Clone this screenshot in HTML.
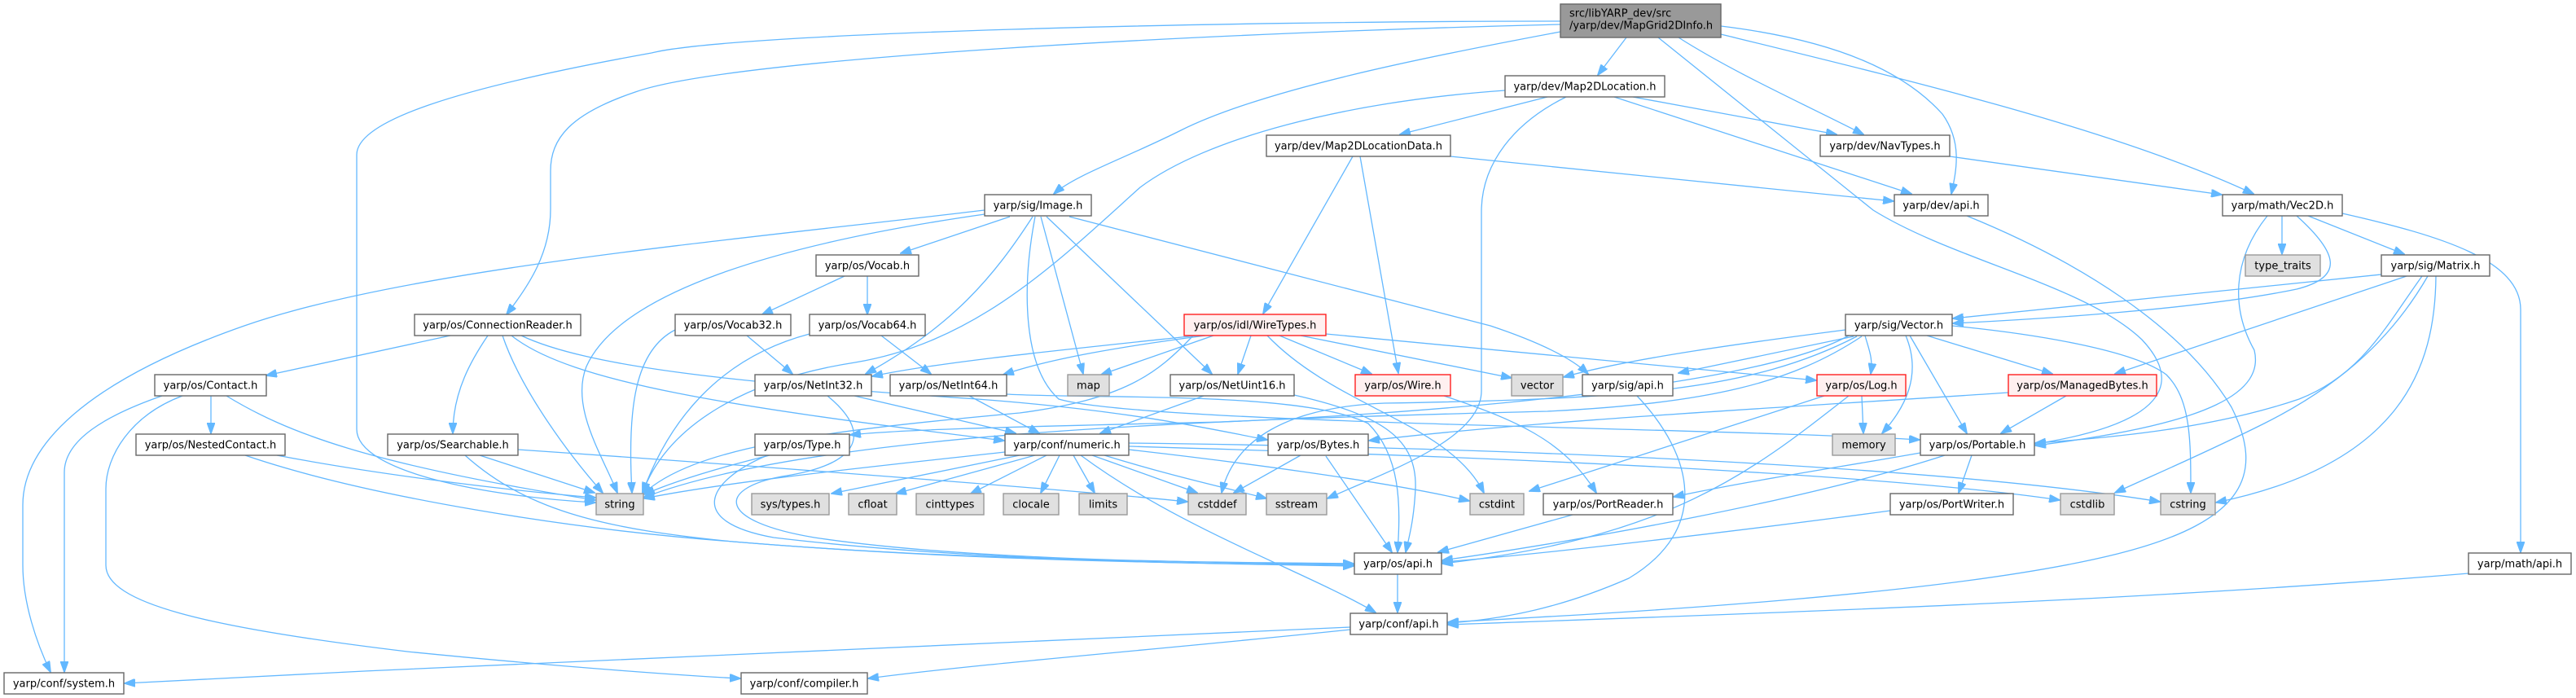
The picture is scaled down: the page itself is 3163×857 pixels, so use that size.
<!DOCTYPE html>
<html><head><meta charset="utf-8"><style>
html,body{margin:0;padding:0;background:#fff;}
svg{display:block;}
.e path{fill:none;stroke:#63b8ff;stroke-width:1.3;}
.n rect{fill:#fff;stroke:#666;stroke-width:1.4;}
.g rect{fill:#e0e0e0;stroke:#999;stroke-width:1.4;}
.r rect{fill:#fff0f0;stroke:#ff2020;stroke-width:1.4;}
text{font-family:"DejaVu Sans","Liberation Sans",sans-serif;font-size:13px;fill:#000;}
.n text,.g text,.r text{text-anchor:middle;}
</style></head><body>
<svg width="3163" height="857" viewBox="0 0 3163 857" xmlns="http://www.w3.org/2000/svg">
<defs><marker id="a" viewBox="0 0 14 10" markerWidth="14" markerHeight="10" refX="13" refY="5" orient="auto" markerUnits="userSpaceOnUse"><path d="M0,0 L14,5 L0,10 z" fill="#63b8ff" stroke="#63b8ff" stroke-width="1"/></marker></defs>
<g class="e" marker-end="url(#a)">
<path marker-end="url(#a)" d="M1997,46 L1962,92"/>
<path marker-end="url(#a)" d="M2061,46 C2130,90 2220,130 2288,165"/>
<path marker-end="url(#a)" d="M2113,32 C2260,50 2340,90 2385,140 C2410,175 2402,210 2396,238"/>
<path marker-end="url(#a)" d="M2113,42 C2350,100 2600,160 2767,238"/>
<path marker-end="url(#a)" d="M1916,39 C1750,70 1550,110 1450,160 C1380,195 1320,215 1294,238"/>
<path marker-end="url(#a)" d="M1916,30 C1500,40 900,70 780,113 C700,140 676,170 676,210 L676,257 C676,310 650,350 622,386"/>
<path marker-end="url(#a)" d="M1916,26 C1500,26 900,40 800,65 C550,110 438,150 438,190 L438,527 C438,580 600,610 731,617"/>
<path marker-end="url(#a)" d="M2036,46 L2300,258 C2400,320 2560,350 2630,417 C2680,470 2660,520 2499,545"/>
<path marker-end="url(#a)" d="M1900,119 L1719,165"/>
<path marker-end="url(#a)" d="M2005,119 L2255,165"/>
<path marker-end="url(#a)" d="M1982,119 L2347,238"/>
<path marker-end="url(#a)" d="M1848,111 C1650,125 1480,170 1400,230 C1300,320 1200,420 1050,445 C920,465 820,520 789,605"/>
<path marker-end="url(#a)" d="M1923,119 C1860,150 1819,200 1819,260 L1819,480 C1819,540 1700,580 1630,612"/>
<path marker-end="url(#a)" d="M1661,192 L1551,385"/>
<path marker-end="url(#a)" d="M1670,192 L1717,458"/>
<path marker-end="url(#a)" d="M1781,192 L2325,247"/>
<path marker-end="url(#a)" d="M2394,192 L2728,239"/>
<path marker-end="url(#a)" d="M2415,265 C2550,320 2680,400 2740,500 C2780,580 2760,640 2600,680 C2400,730 2000,752 1778,764"/>
<path marker-end="url(#a)" d="M2802,265 L2802,312"/>
<path marker-end="url(#a)" d="M2834,265 L2952,312"/>
<path marker-end="url(#a)" d="M2820,265 C2870,310 2880,340 2820,355 C2700,380 2500,392 2398,397"/>
<path marker-end="url(#a)" d="M2784,265 C2740,320 2740,380 2768,430 C2780,480 2720,520 2499,547"/>
<path marker-end="url(#a)" d="M2876,262 C3000,290 3095,320 3095,380 L3095,678"/>
<path marker-end="url(#a)" d="M2924,337 L2398,391"/>
<path marker-end="url(#a)" d="M2955,339 L2597,459"/>
<path marker-end="url(#a)" d="M2974,339 C2930,400 2900,460 2823,490 C2720,525 2600,537 2499,544"/>
<path marker-end="url(#a)" d="M2981,339 C2940,410 2880,470 2780,520 C2700,560 2640,585 2597,605"/>
<path marker-end="url(#a)" d="M2991,339 C2990,450 2950,570 2721,617"/>
<path marker-end="url(#a)" d="M2366,412 L2520,459"/>
<path marker-end="url(#a)" d="M2345,412 L2415,532"/>
<path marker-end="url(#a)" d="M2340,412 C2360,460 2340,500 2311,532"/>
<path marker-end="url(#a)" d="M2290,412 C2295,430 2300,440 2297,459"/>
<path marker-end="url(#a)" d="M2397,400 C2500,410 2620,430 2660,460 C2690,490 2690,540 2690,605"/>
<path marker-end="url(#a)" d="M2266,405 C2150,420 2000,440 1920,463"/>
<path marker-end="url(#a)" d="M2276,413 L2061,458"/>
<path marker-end="url(#a)" d="M2286,413 C2200,470 2100,495 1900,505 C1500,515 1000,530 790,611"/>
<path marker-end="url(#a)" d="M2270,412 C2150,480 1700,510 1500,518 C1200,525 1100,528 1044,534"/>
<path marker-end="url(#a)" d="M2280,413 C2150,480 2000,490 1700,495 C1580,500 1515,540 1500,605"/>
<path marker-end="url(#a)" d="M2466,482 C2200,500 1900,515 1681,541"/>
<path marker-end="url(#a)" d="M2537,486 L2457,532"/>
<path marker-end="url(#a)" d="M2358,556 C2250,575 2150,590 2055,610"/>
<path marker-end="url(#a)" d="M2421,559 L2405,605"/>
<path marker-end="url(#a)" d="M2388,559 C2200,620 1900,670 1771,688"/>
<path marker-end="url(#a)" d="M2286,486 L2288,532"/>
<path marker-end="url(#a)" d="M2240,486 L1878,603"/>
<path marker-end="url(#a)" d="M2270,486 C2150,580 2050,660 1771,692"/>
<path marker-end="url(#a)" d="M1770,485 C1860,515 1920,540 1960,605"/>
<path marker-end="url(#a)" d="M1536,412 L1520,459"/>
<path marker-end="url(#a)" d="M1556,412 C1640,500 1780,520 1822,605"/>
<path marker-end="url(#a)" d="M1571,412 L1684,459"/>
<path marker-end="url(#a)" d="M1597,412 L1856,464"/>
<path marker-end="url(#a)" d="M1628,410 L2230,467"/>
<path marker-end="url(#a)" d="M1470,412 C1300,430 1150,445 1071,462"/>
<path marker-end="url(#a)" d="M1480,412 C1380,425 1290,440 1232,460"/>
<path marker-end="url(#a)" d="M1490,412 L1352,460"/>
<path marker-end="url(#a)" d="M1465,412 C1420,460 1380,490 1252,507 C1000,530 850,550 789,607"/>
<path marker-end="url(#a)" d="M1049,486 L1247,532"/>
<path marker-end="url(#a)" d="M1016,486 C1070,530 1060,570 960,585 C880,600 880,640 1000,660 C1200,690 1500,690 1662,693"/>
<path marker-end="url(#a)" d="M1190,486 L1276,532"/>
<path marker-end="url(#a)" d="M1236,484 C1350,490 1600,480 1680,520 C1720,560 1720,620 1716,678"/>
<path marker-end="url(#a)" d="M1478,486 L1351,532"/>
<path marker-end="url(#a)" d="M1589,485 C1700,510 1740,540 1738,600 C1736,640 1730,660 1726,678"/>
<path marker-end="url(#a)" d="M1234,555 C1100,570 900,590 791,612"/>
<path marker-end="url(#a)" d="M1252,559 L1021,606"/>
<path marker-end="url(#a)" d="M1271,559 L1100,606"/>
<path marker-end="url(#a)" d="M1285,559 L1192,606"/>
<path marker-end="url(#a)" d="M1301,559 L1278,605"/>
<path marker-end="url(#a)" d="M1318,559 L1344,605"/>
<path marker-end="url(#a)" d="M1341,559 L1470,605"/>
<path marker-end="url(#a)" d="M1327,559 C1450,650 1600,700 1689,752"/>
<path marker-end="url(#a)" d="M1356,559 C1440,585 1510,600 1555,612"/>
<path marker-end="url(#a)" d="M1386,552 C1500,565 1700,590 1804,615"/>
<path marker-end="url(#a)" d="M1386,548 C1800,560 2300,580 2529,614"/>
<path marker-end="url(#a)" d="M1386,544 C1900,550 2400,575 2652,616"/>
<path marker-end="url(#a)" d="M1597,559 L1515,605"/>
<path marker-end="url(#a)" d="M1628,560 L1709,678"/>
<path marker-end="url(#a)" d="M589,559 L730,605"/>
<path marker-end="url(#a)" d="M571,559 C650,630 750,650 900,665 C1200,690 1500,690 1662,692"/>
<path marker-end="url(#a)" d="M636,552 C900,570 1300,600 1458,616"/>
<path marker-end="url(#a)" d="M340,559 C450,580 600,600 731,611"/>
<path marker-end="url(#a)" d="M301,559 C450,610 700,650 900,665 C1200,690 1500,692 1662,694"/>
<path marker-end="url(#a)" d="M259,486 L259,532"/>
<path marker-end="url(#a)" d="M278,486 C350,530 450,570 731,614"/>
<path marker-end="url(#a)" d="M199,486 C130,510 79,540 79,580 L79,825"/>
<path marker-end="url(#a)" d="M224,486 C160,510 130,560 130,600 L130,694 C130,740 250,770 500,800 C700,820 850,830 909,833"/>
<path marker-end="url(#a)" d="M1209,258 C900,295 500,330 300,400 C100,470 28,550 28,620 L28,694 C28,740 45,790 62,825"/>
<path marker-end="url(#a)" d="M1209,263 C950,300 760,360 720,450 C700,500 740,560 758,605"/>
<path marker-end="url(#a)" d="M1240,266 L1106,311"/>
<path marker-end="url(#a)" d="M1268,266 C1220,340 1170,400 1063,459"/>
<path marker-end="url(#a)" d="M1278,266 L1330,459"/>
<path marker-end="url(#a)" d="M1271,266 C1255,350 1255,450 1300,490 C1400,520 2100,525 2357,540"/>
<path marker-end="url(#a)" d="M1285,266 L1488,459"/>
<path marker-end="url(#a)" d="M1313,266 L1830,400 C1890,420 1930,440 1950,459"/>
<path marker-end="url(#a)" d="M1037,339 L936,386"/>
<path marker-end="url(#a)" d="M1065,339 L1065,386"/>
<path marker-end="url(#a)" d="M917,412 L973,459"/>
<path marker-end="url(#a)" d="M829,405 C780,430 770,500 776,605"/>
<path marker-end="url(#a)" d="M1082,412 L1143,459"/>
<path marker-end="url(#a)" d="M994,410 C880,440 820,520 789,605"/>
<path marker-end="url(#a)" d="M945,559 C880,575 830,590 791,607"/>
<path marker-end="url(#a)" d="M940,560 C870,590 840,640 950,660 C1200,690 1500,692 1662,695"/>
<path marker-end="url(#a)" d="M553,412 L327,461"/>
<path marker-end="url(#a)" d="M599,412 C580,440 556,480 556,532"/>
<path marker-end="url(#a)" d="M617,412 C640,480 700,560 740,605"/>
<path marker-end="url(#a)" d="M628,412 C700,470 900,500 1233,541"/>
<path marker-end="url(#a)" d="M640,412 C720,450 900,470 1200,490 C1400,505 1500,530 1556,540"/>
<path marker-end="url(#a)" d="M2010,486 C2080,560 2100,650 2000,710 C1920,745 1850,760 1778,765"/>
<path marker-end="url(#a)" d="M1931,632 L1766,678"/>
<path marker-end="url(#a)" d="M2321,627 C2150,650 1900,680 1771,690"/>
<path marker-end="url(#a)" d="M1716,705 L1716,752"/>
<path marker-end="url(#a)" d="M3031,704 C2600,740 2100,755 1778,767"/>
<path marker-end="url(#a)" d="M1658,770 C1300,785 700,810 153,839"/>
<path marker-end="url(#a)" d="M1658,773 C1450,795 1200,815 1066,833"/>
</g>

<!-- root -->
<g><rect x="1916" y="5" width="197" height="41" fill="#999999" stroke="#666666" stroke-width="1.4"/>
<text x="1927" y="20.5">src/libYARP_dev/src</text>
<text x="1927" y="35.5">/yarp/dev/MapGrid2DInfo.h</text></g>

<g class="n"><rect x="1848" y="93" width="196" height="26"/><text x="1946" y="110.5">yarp/dev/Map2DLocation.h</text></g>
<g class="n"><rect x="1555" y="166" width="226" height="26"/><text x="1668" y="183.5">yarp/dev/Map2DLocationData.h</text></g>
<g class="n"><rect x="2235" y="166" width="159" height="26"/><text x="2314.5" y="183.5">yarp/dev/NavTypes.h</text></g>
<g class="n"><rect x="1209" y="239" width="131" height="26"/><text x="1274.5" y="256.5">yarp/sig/Image.h</text></g>
<g class="n"><rect x="2326" y="239" width="115" height="26"/><text x="2383.5" y="256.5">yarp/dev/api.h</text></g>
<g class="n"><rect x="2729" y="239" width="147" height="26"/><text x="2802.5" y="256.5">yarp/math/Vec2D.h</text></g>
<g class="n"><rect x="1002" y="313" width="126" height="26"/><text x="1065" y="330.5">yarp/os/Vocab.h</text></g>
<g class="g"><rect x="2757" y="313" width="92" height="26"/><text x="2803" y="330.5">type_traits</text></g>
<g class="n"><rect x="2924" y="313" width="133" height="26"/><text x="2990.5" y="330.5">yarp/sig/Matrix.h</text></g>
<g class="n"><rect x="509" y="386" width="204" height="26"/><text x="611" y="403.5">yarp/os/ConnectionReader.h</text></g>
<g class="n"><rect x="829" y="386" width="142" height="26"/><text x="900" y="403.5">yarp/os/Vocab32.h</text></g>
<g class="n"><rect x="994" y="386" width="142" height="26"/><text x="1065" y="403.5">yarp/os/Vocab64.h</text></g>
<g class="r"><rect x="1454" y="386" width="174" height="26"/><text x="1541" y="403.5">yarp/os/idl/WireTypes.h</text></g>
<g class="n"><rect x="2266" y="386" width="131" height="26"/><text x="2331.5" y="403.5">yarp/sig/Vector.h</text></g>
<g class="n"><rect x="190" y="460" width="137" height="26"/><text x="258.5" y="477.5">yarp/os/Contact.h</text></g>
<g class="n"><rect x="927" y="460" width="143" height="26"/><text x="998.5" y="477.5">yarp/os/NetInt32.h</text></g>
<g class="n"><rect x="1093" y="460" width="143" height="26"/><text x="1164.5" y="477.5">yarp/os/NetInt64.h</text></g>
<g class="g"><rect x="1311" y="460" width="51" height="26"/><text x="1336.5" y="477.5">map</text></g>
<g class="n"><rect x="1437" y="460" width="152" height="26"/><text x="1513" y="477.5">yarp/os/NetUint16.h</text></g>
<g class="r"><rect x="1664" y="460" width="117" height="26"/><text x="1722.5" y="477.5">yarp/os/Wire.h</text></g>
<g class="g"><rect x="1856" y="460" width="63" height="26"/><text x="1887.5" y="477.5">vector</text></g>
<g class="n"><rect x="1943" y="460" width="111" height="26"/><text x="1998.5" y="477.5">yarp/sig/api.h</text></g>
<g class="r"><rect x="2231" y="460" width="109" height="26"/><text x="2285.5" y="477.5">yarp/os/Log.h</text></g>
<g class="r"><rect x="2466" y="460" width="182" height="26"/><text x="2557" y="477.5">yarp/os/ManagedBytes.h</text></g>
<g class="n"><rect x="167" y="533" width="183" height="26"/><text x="258.5" y="550.5">yarp/os/NestedContact.h</text></g>
<g class="n"><rect x="476" y="533" width="160" height="26"/><text x="556" y="550.5">yarp/os/Searchable.h</text></g>
<g class="n"><rect x="927" y="533" width="116" height="26"/><text x="985" y="550.5">yarp/os/Type.h</text></g>
<g class="n"><rect x="1234" y="533" width="152" height="26"/><text x="1310" y="550.5">yarp/conf/numeric.h</text></g>
<g class="n"><rect x="1557" y="533" width="123" height="26"/><text x="1618.5" y="550.5">yarp/os/Bytes.h</text></g>
<g class="g"><rect x="2250" y="533" width="77" height="26"/><text x="2288.5" y="550.5">memory</text></g>
<g class="n"><rect x="2358" y="533" width="140" height="26"/><text x="2428" y="550.5">yarp/os/Portable.h</text></g>
<g class="g"><rect x="732" y="606" width="58" height="26"/><text x="761" y="623.5">string</text></g>
<g class="g"><rect x="923" y="606" width="95" height="26"/><text x="970.5" y="623.5">sys/types.h</text></g>
<g class="g"><rect x="1042" y="606" width="59" height="26"/><text x="1071.5" y="623.5">cfloat</text></g>
<g class="g"><rect x="1125" y="606" width="83" height="26"/><text x="1166.5" y="623.5">cinttypes</text></g>
<g class="g"><rect x="1232" y="606" width="68" height="26"/><text x="1266" y="623.5">clocale</text></g>
<g class="g"><rect x="1325" y="606" width="59" height="26"/><text x="1354.5" y="623.5">limits</text></g>
<g class="g"><rect x="1459" y="606" width="71" height="26"/><text x="1494.5" y="623.5">cstddef</text></g>
<g class="g"><rect x="1555" y="606" width="74" height="26"/><text x="1592" y="623.5">sstream</text></g>
<g class="g"><rect x="1805" y="606" width="66" height="26"/><text x="1838" y="623.5">cstdint</text></g>
<g class="n"><rect x="1895" y="606" width="159" height="26"/><text x="1974.5" y="623.5">yarp/os/PortReader.h</text></g>
<g class="n"><rect x="2321" y="606" width="151" height="26"/><text x="2396.5" y="623.5">yarp/os/PortWriter.h</text></g>
<g class="g"><rect x="2530" y="606" width="66" height="26"/><text x="2563" y="623.5">cstdlib</text></g>
<g class="g"><rect x="2653" y="606" width="67" height="26"/><text x="2686.5" y="623.5">cstring</text></g>
<g class="n"><rect x="1663" y="679" width="107" height="26"/><text x="1716.5" y="696.5">yarp/os/api.h</text></g>
<g class="n"><rect x="3031" y="679" width="126" height="26"/><text x="3094" y="696.5">yarp/math/api.h</text></g>
<g class="n"><rect x="1658" y="753" width="119" height="26"/><text x="1717.5" y="770.5">yarp/conf/api.h</text></g>
<g class="n"><rect x="5" y="826" width="147" height="26"/><text x="78.5" y="843.5">yarp/conf/system.h</text></g>
<g class="n"><rect x="910" y="826" width="155" height="26"/><text x="987.5" y="843.5">yarp/conf/compiler.h</text></g>
</svg>
</body></html>
